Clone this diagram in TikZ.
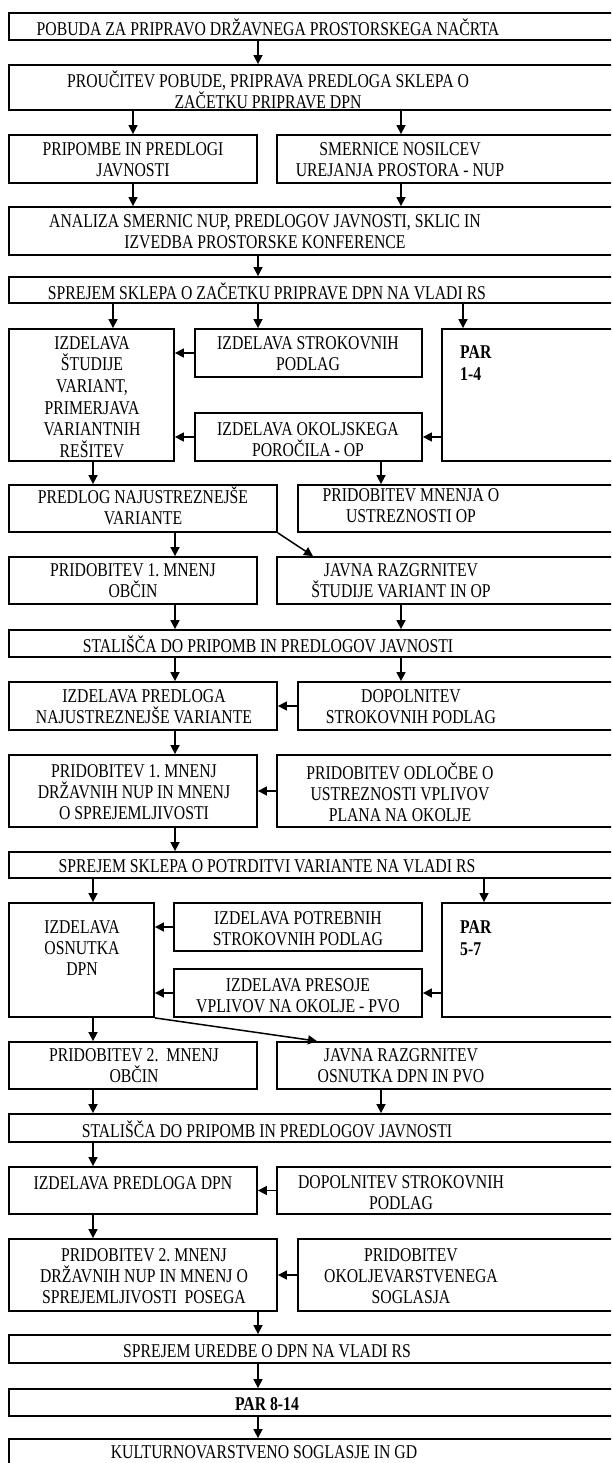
\documentclass[tikz,border=0pt]{standalone}
\usepackage{fontspec}
\setmainfont[FakeStretch=0.807]{Liberation Serif}
\usepackage{tikz}
\usetikzlibrary{shapes,arrows.meta,positioning,fit}
\frenchspacing

\begin{document}
\begin{tikzpicture}[x=1pt, y=-1pt,
	box/.style={draw=black, line width=1.8pt, inner sep=0pt},
	txt/.style={font=\fontsize{19.5}{21}\selectfont, align=center, inner sep=0pt},
	par/.style={font=\fontsize{19.5}{22.5}\selectfont\bfseries, align=left, inner sep=0pt, anchor=west},
	arr/.style={-{Triangle[length=9pt,width=9pt]}, line width=1.5pt}]
	\useasboundingbox (0,0) rectangle (611,1463);
	\clip (0,0) rectangle (611,1463);
	% columns of the arrows
	\coordinate (xa) at (93,0);
	\coordinate (xb) at (113,0);
	\coordinate (xc) at (133,0);
	\coordinate (xd) at (175,0);
	\coordinate (xe) at (258,0);
	\coordinate (xf) at (381,0);
	\coordinate (xg) at (401,0);
	\coordinate (xh) at (463,0);
	\coordinate (xi) at (484,0);
	\coordinate (xp) at (313,0);
	\coordinate (xq) at (317,0);
	% boxes
	\node [box, fit={(9,13) (616,40)}] 		(b1) {};
	\node [box, fit={(9,65) (616,110)}] 		(b2) {};
	\node [box, fit={(9,135) (257,183)}] 		(b3a) {};
	\node [box, fit={(277,135) (616,183)}] 	(b3b) {};
	\node [box, fit={(9,207) (616,255)}] 		(b4) {};
	\node [box, fit={(9,277) (616,303)}] 		(b5) {};
	\node [box, fit={(9,329) (174,461)}] 		(b6a) {};
	\node [box, fit={(195,329) (422,377)}] 	(b6b) {};
	\node [box, fit={(442,329) (616,461)}] 	(b6c) {};
	\node [box, fit={(195,413) (422,461)}] 	(b6d) {};
	\node [box, fit={(9,485) (277,532)}] 		(b7a) {};
	\node [box, fit={(298,485) (616,532)}] 	(b7b) {};
	\node [box, fit={(9,557) (257,604)}] 		(b8a) {};
	\node [box, fit={(277,557) (616,604)}] 	(b8b) {};
	\node [box, fit={(9,630) (616,657)}] 		(b9) {};
	\node [box, fit={(9,682) (277,730)}] 		(b10a) {};
	\node [box, fit={(298,682) (616,730)}] 	(b10b) {};
	\node [box, fit={(9,755) (257,827)}] 		(b11a) {};
	\node [box, fit={(277,755) (616,827)}] 	(b11b) {};
	\node [box, fit={(9,852) (616,878)}] 		(b12) {};
	\node [box, fit={(9,903) (154,1017)}] 		(b13a) {};
	\node [box, fit={(174,903) (422,951)}] 	(b13b) {};
	\node [box, fit={(442,903) (616,1017)}] 	(b13c) {};
	\node [box, fit={(174,969) (422,1017)}] 	(b13d) {};
	\node [box, fit={(9,1042) (257,1089)}] 	(b14a) {};
	\node [box, fit={(277,1042) (616,1089)}] 	(b14b) {};
	\node [box, fit={(9,1114) (616,1142)}] 	(b15) {};
	\node [box, fit={(9,1167) (257,1214)}] 	(b16a) {};
	\node [box, fit={(277,1167) (616,1214)}] 	(b16b) {};
	\node [box, fit={(9,1239) (277,1311)}] 	(b17a) {};
	\node [box, fit={(298,1239) (616,1311)}] 	(b17b) {};
	\node [box, fit={(9,1335) (616,1363)}] 	(b18) {};
	\node [box, fit={(9,1389) (616,1416)}] 	(b19) {};
	\node [box, fit={(9,1439) (616,1470)}] 	(b20) {};
	% texts
	\node [txt] (t1) at (268,27) {POBUDA ZA PRIPRAVO DRŽAVNEGA PROSTORSKEGA NAČRTA};
	\node [txt] (t2) at (268,90) {PROUČITEV POBUDE, PRIPRAVA PREDLOGA SKLEPA O\\ZAČETKU PRIPRAVE DPN};
	\node [txt] (t3a) at (133,160) {PRIPOMBE IN PREDLOGI\\JAVNOSTI};
	\node [txt] (t3b) at (400,160) {SMERNICE NOSILCEV\\UREJANJA PROSTORA - NUP};
	\node [txt] (t4) at (265,232) {ANALIZA SMERNIC NUP, PREDLOGOV JAVNOSTI, SKLIC IN\\IZVEDBA PROSTORSKE KONFERENCE};
	\node [txt] (t5) at (267,291) {SPREJEM SKLEPA O ZAČETKU PRIPRAVE DPN NA VLADI RS};
	\node [txt, font=\fontsize{19.5}{21.7}\selectfont] (t6a) at (92,397) {IZDELAVA\\ŠTUDIJE\\VARIANT,\\PRIMERJAVA\\VARIANTNIH\\REŠITEV};
	\node [txt] (t6b) at (308,354) {IZDELAVA STROKOVNIH\\PODLAG};
	\node [par] (t6c) at (460,363) {PAR\\1-4};
	\node [txt] (t6d) at (308,440) {IZDELAVA OKOLJSKEGA\\POROČILA - OP};
	\node [txt] (t7a) at (143,506) {PREDLOG NAJUSTREZNEJŠE\\VARIANTE};
	\node [txt] (t7b) at (411,506) {PRIDOBITEV MNENJA O\\USTREZNOSTI OP};
	\node [txt] (t8a) at (133,581) {PRIDOBITEV 1. MNENJ\\OBČIN};
	\node [txt] (t8b) at (401,581) {JAVNA RAZGRNITEV\\ŠTUDIJE VARIANT IN OP};
	\node [txt] (t9) at (268,644) {STALIŠČA DO PRIPOMB IN PREDLOGOV JAVNOSTI};
	\node [txt] (t10a) at (144,707) {IZDELAVA PREDLOGA\\NAJUSTREZNEJŠE VARIANTE};
	\node [txt] (t10b) at (411,707) {DOPOLNITEV\\STROKOVNIH PODLAG};
	\node [txt] (t11a) at (134,792) {PRIDOBITEV 1. MNENJ\\DRŽAVNIH NUP IN MNENJ\\O SPREJEMLJIVOSTI};
	\node [txt] (t11b) at (400,792) {PRIDOBITEV ODLOČBE O\\USTREZNOSTI VPLIVOV\\PLANA NA OKOLJE};
	\node [txt] (t12) at (267,866) {SPREJEM SKLEPA O POTRDITVI VARIANTE NA VLADI RS};
	\node [txt] (t13a) at (82,948) {IZDELAVA\\OSNUTKA\\DPN};
	\node [txt] (t13b) at (298,929) {IZDELAVA POTREBNIH\\STROKOVNIH PODLAG};
	\node [par] (t13c) at (460,938) {PAR\\5-7};
	\node [txt] (t13d) at (298,996) {IZDELAVA PRESOJE\\VPLIVOV NA OKOLJE - PVO};
	\node [txt] (t14a) at (134,1066) {PRIDOBITEV 2.~ MNENJ\\OBČIN};
	\node [txt] (t14b) at (401,1066) {JAVNA RAZGRNITEV\\OSNUTKA DPN IN PVO};
	\node [txt] (t15) at (267,1129) {STALIŠČA DO PRIPOMB IN PREDLOGOV JAVNOSTI};
	\node [txt] (t16a) at (133,1183) {IZDELAVA PREDLOGA DPN};
	\node [txt] (t16b) at (401,1193) {DOPOLNITEV STROKOVNIH\\PODLAG};
	\node [txt] (t17a) at (144,1276) {PRIDOBITEV 2. MNENJ\\DRŽAVNIH NUP IN MNENJ O\\SPREJEMLJIVOSTI~ POSEGA};
	\node [txt] (t17b) at (411,1276) {PRIDOBITEV\\OKOLJEVARSTVENEGA\\SOGLASJA};
	\node [txt] (t18) at (267,1351) {SPREJEM UREDBE O DPN NA VLADI RS};
	\node [txt, font=\fontsize{19.5}{21}\selectfont\bfseries] (t19) at (267,1404) {PAR 8-14};
	\node [txt] (t20) at (264,1452) {KULTURNOVARSTVENO SOGLASJE IN GD};
	% arrows
	\draw [arr] (b1.south -| xe) -- (b2.north -| xe);
	\draw [arr] (b2.south -| xc) -- (b3a.north -| xc);
	\draw [arr] (b2.south -| xg) -- (b3b.north -| xg);
	\draw [arr] (b3a.south -| xc) -- (b4.north -| xc);
	\draw [arr] (b3b.south -| xg) -- (b4.north -| xg);
	\draw [arr] (b4.south -| xe) -- (b5.north -| xe);
	\draw [arr] (b5.south -| xb) -- (b6a.north -| xb);
	\draw [arr] (b5.south -| xe) -- (b6b.north -| xe);
	\draw [arr] (b5.south -| xh) -- (b6c.north -| xh);
	\draw [arr] (b6b.west) -- (b6a.east |- b6b.west);
	\draw [arr] (b6d.west) -- (b6a.east |- b6d.west);
	\draw [arr] (b6c.west |- b6d.east) -- (b6d.east);
	\draw [arr] (b6a.south -| xa) -- (b7a.north -| xa);
	\draw [arr] (b6d.south -| xf) -- (b7b.north -| xf);
	\draw [arr] (b7a.south -| xd) -- (b8a.north -| xd);
	\draw [arr] (b7a.south east) -- (b8b.north -| xp);
	\draw [arr] (b8a.south -| xd) -- (b9.north -| xd);
	\draw [arr] (b8b.south -| xg) -- (b9.north -| xg);
	\draw [arr] (b9.south -| xd) -- (b10a.north -| xd);
	\draw [arr] (b9.south -| xg) -- (b10b.north -| xg);
	\draw [arr] (b10b.west) -- (b10a.east |- b10b.west);
	\draw [arr] (b10a.south -| xd) -- (b11a.north -| xd);
	\draw [arr] (b11b.west) -- (b11a.east |- b11b.west);
	\draw [arr] (b11a.south -| xd) -- (b12.north -| xd);
	\draw [arr] (b12.south -| xa) -- (b13a.north -| xa);
	\draw [arr] (b12.south -| xi) -- (b13c.north -| xi);
	\draw [arr] (b13b.west) -- (b13a.east |- b13b.west);
	\draw [arr] (b13d.west) -- (b13a.east |- b13d.west);
	\draw [arr] (b13c.west |- b13d.east) -- (b13d.east);
	\draw [arr] (b13a.south -| xa) -- (b14a.north -| xa);
	\draw [arr] (b13a.south east) -- (b14b.north -| xq);
	\draw [arr] (b14a.south -| xa) -- (b15.north -| xa);
	\draw [arr] (b14b.south -| xf) -- (b15.north -| xf);
	\draw [arr] (b15.south -| xa) -- (b16a.north -| xa);
	\draw [arr] (b16b.west) -- (b16a.east |- b16b.west);
	\draw [arr] (b16a.south -| xa) -- (b17a.north -| xa);
	\draw [arr] (b17b.west) -- (b17a.east |- b17b.west);
	\draw [arr] (b17a.south -| xe) -- (b18.north -| xe);
	\draw [arr] (b18.south -| xe) -- (b19.north -| xe);
	\draw [arr] (b19.south -| xe) -- (b20.north -| xe);
\end{tikzpicture}
\end{document}
